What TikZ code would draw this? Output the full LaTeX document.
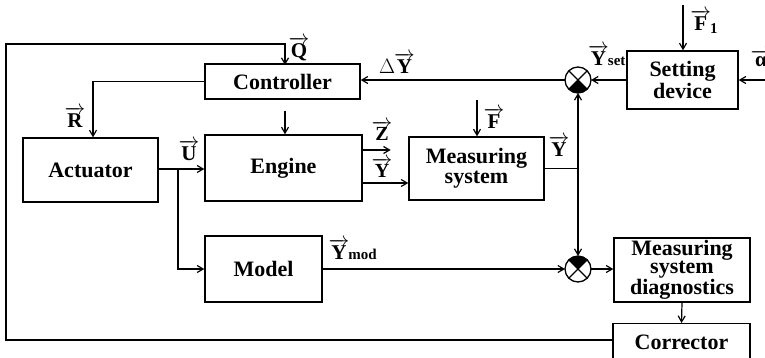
\documentclass[tikz,border=0pt]{standalone}
\usepackage{fontspec}
\setmainfont{Liberation Serif}
\usetikzlibrary{arrows.meta}
\newcommand\vv[1]{\ensuremath{\overrightarrow{\hbox{#1}}}}
\newcommand\sbs[1]{{\fontsize{15}{15}\selectfont #1}}
\begin{document}
\begin{tikzpicture}[x=1pt,y=-1pt, line width=1.2pt,
 blk/.style={draw, line width=1.4pt, inner sep=0pt, font=\fontsize{22}{22}\selectfont\bfseries, align=center},
 lbl/.style={font=\fontsize{21}{21}\selectfont\bfseries, inner sep=0pt},
 arr/.style={-{Straight Barb[length=6pt,width=7pt]}},
 cmp/.style={draw, circle, minimum size=26pt, inner sep=0pt, outer sep=0pt, line width=1.3pt}]
\useasboundingbox (0,0) rectangle (765,357);

% blocks
\node[blk, minimum width=155pt, minimum height=35pt] (ctrl) at (282.5,81.5) {Controller};
\node[blk, minimum width=135pt, minimum height=64pt] (act) at (90.5,170) {Actuator};
\node[blk, minimum width=157pt, minimum height=66pt] (eng) at (283.5,168) {Engine};
\node[blk, minimum width=117pt, minimum height=66pt] (mod) at (263.5,269) {Model};
\node[blk, minimum width=135pt, minimum height=63pt, font=\fontsize{22}{20}\selectfont\bfseries] (meas) at (476.5,168.5) {Measuring\\system};
\node[blk, minimum width=111pt, minimum height=58pt, font=\fontsize{22}{22}\selectfont\bfseries] (set) at (682.5,80) {Setting\\device};
\node[blk, minimum width=136pt, minimum height=64pt, font=\fontsize{22}{17}\selectfont\bfseries] (msd) at (682,270) {Measuring\\system\\diagnostics};
\node[blk, minimum width=137pt, minimum height=38pt, anchor=north] (cor) at (681.5,323) {Corrector};

% comparators
\node[cmp] (cu) at (578,80) {};
\node[cmp] (cl) at (578,269) {};
\fill (cu.center) -- (cu.south west) arc[start angle=225,end angle=315,radius=13pt] -- cycle;
\fill (cl.center) -- (cl.north east) arc[start angle=45,end angle=135,radius=13pt] -- cycle;
\draw[line width=1.1pt] (cu.north west) -- (cu.south east) (cu.north east) -- (cu.south west);
\draw[line width=1.1pt] (cl.north west) -- (cl.south east) (cl.north east) -- (cl.south west);

% coordinates
\coordinate (tl) at (6,44);
\coordinate (qx) at (285,65);
\coordinate (br) at (178,169);
\coordinate (ms) at (578,168.5);
\coordinate (fin) at (477,100);
\coordinate (f1in) at (683,5);
\coordinate (ain) at (770,80);

% connectors
\draw[arr] (cor.west |- 0,340) -| (tl) -| (qx);
\draw[arr] (ctrl.west) -| ([xshift=2.5pt]act.north);
\draw[arr, shorten <=11pt] ([xshift=2.5pt]ctrl.south) -- ([xshift=1.5pt]eng.north);
\draw[arr] (act.east |- br) -- (eng.west |- br);
\draw[arr] (br) |- (mod.west);
\draw[arr] (eng.east |- 0,150) -- ++(28,0);
\draw[arr] (eng.east |- 0,183) -- (meas.west |- 0,183);
\draw[arr] (fin) -- (fin |- meas.north);
\draw (meas.east) -- (ms);
\draw[arr] (ms) -- (cu.south);
\draw[arr] (ms) -- (cl.north);
\draw[arr] (set.west) -- (cu.east);
\draw[arr] (cu.west) -- (cu.west -| ctrl.east);
\draw[arr] (f1in) -- (f1in |- set.north);
\draw[arr] (ain) -- (set.east);
\draw[arr] (mod.east |- cl) -- (cl.west);
\draw[arr] (cl.east) -- (msd.west |- cl);
\draw[arr] (msd.south) -- (cor.north);

% labels
\node[lbl] (lQ) at (299,49) {\vv{Q}};
\node[lbl] (lR) at (75,117) {\vv{R}};
\node[lbl] (lU) at (189,150) {\vv{U}};
\node[lbl, font=\fontsize{20}{20}\selectfont\bfseries] (lZ) at (382,131) {\vv{Z}};
\node[lbl, font=\fontsize{20}{20}\selectfont\bfseries] (lY1) at (382,168) {\vv{Y}};
\node[lbl] (lF) at (494,118) {\vv{F}};
\node[lbl] (lY2) at (559,146) {\vv{Y}};
\node[lbl] (ldY) at (397,63) {$\Delta$\kern-1pt\vv{Y}};
\node[lbl, anchor=east] (lYs) at (626,55) {\vv{Y}\kern-1pt\sbs{set}};
\node[lbl] (lF1) at (704,22) {\vv{F}\kern-1pt\raisebox{-3pt}{\sbs{1}}};
\node[lbl] (la) at (761,58) {\vv{α}};
\node[lbl, anchor=west] (lYm) at (328,249) {\vv{Y}\kern-1pt\sbs{mod}};
\end{tikzpicture}
\end{document}
